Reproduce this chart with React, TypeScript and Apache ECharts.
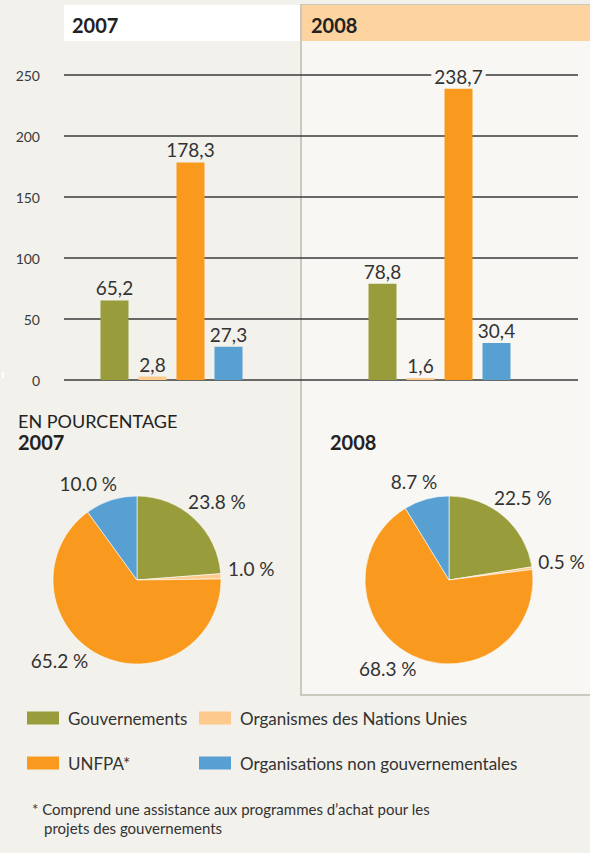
import React, { useEffect, useRef } from 'react';
import * as echarts from 'echarts';

// ---- data ----
const years = ['2007', '2008'];
const seriesNames = [
  'Gouvernements',
  'Organismes des Nations Unies',
  'UNFPA*',
  'Organisations non gouvernementales',
];
const gouvernements = [65.2, 78.8];
const organismesNU = [2.8, 1.6];
const unfpa = [178.3, 238.7];
const ong = [27.3, 30.4];
const yTicks = [0, 50, 100, 150, 200, 250];
const pct2007 = [23.8, 1.0, 65.2, 10.0];
const pct2008 = [22.5, 0.5, 68.3, 8.7];

// ---- styles ----
const colors = ['#999c3a', '#fec98c', '#f99a1e', '#589fd2'];
const bgMain = '#f2f1eb';
const bgPanel = '#f8f7f3';
const labelBg = [bgMain, bgPanel];
const off2007 = [[-6, -17], [7, -8], [-11, 5], [6, -17]];
const off2008 = [[-9.5, -19], [6, -7], [4, 13], [11, -18]];
const FONT = 'Lato';

export default function App() {
  const ref = useRef<HTMLDivElement>(null);
  useEffect(() => {
    document.body.style.margin = '0';
    if (!ref.current) return;
    const chart = echarts.init(ref.current, undefined, { renderer: 'svg' });
    const values = [gouvernements, organismesNU, unfpa, ong];

    const bars = seriesNames.map((name, i) => ({
      type: 'bar',
      name,
      xAxisIndex: 1,
      yAxisIndex: 1,
      barWidth: 28,
      barGap: '35.7%',
      itemStyle: { color: colors[i] },
      emphasis: { disabled: true },
      label: {
        show: true,
        position: 'top',
        distance: 3,
        fontSize: 19,
        fontFamily: FONT,
        color: '#333',
        padding: [0, 3],
        formatter: (p: any) => String(p.value).replace('.', ','),
      },
      data: values[i].map((v, j) => ({ value: v, label: { backgroundColor: labelBg[j] } })),
    }));

    const makePie = (pct: number[], cx: number, off: number[][]) => ({
      type: 'pie',
      center: [cx, 580],
      radius: 84,
      startAngle: 90,
      clockwise: true,
      avoidLabelOverlap: false,
      emphasis: { disabled: true },
      itemStyle: { borderColor: '#ffffff', borderWidth: 0.6 },
      label: {
        position: 'outside',
        fontSize: 19,
        fontFamily: FONT,
        color: '#333',
        distanceToLabelLine: 0,
        formatter: (p: any) => Number(p.value).toFixed(1) + ' %',
      },
      labelLine: { show: false, length: 0, length2: 0 },
      labelLayout: (p: any) => ({ dx: off[p.dataIndex][0], dy: off[p.dataIndex][1] }),
      data: pct.map((v, i) => ({ name: seriesNames[i], value: v, itemStyle: { color: colors[i] } })),
    });

    const legendBase = {
      orient: 'vertical',
      top: 709,
      itemWidth: 32,
      itemHeight: 13,
      itemGap: 27,
      icon: 'rect',
      padding: 0,
      selectedMode: false,
      textStyle: { fontSize: 17, fontFamily: FONT, color: '#333', lineHeight: 18, padding: [0, 0, 0, 4] },
    };

    const option: any = {
      animation: false,
      backgroundColor: bgMain,
      textStyle: { fontFamily: FONT },
      color: colors,
      graphic: [
        { type: 'rect', z: -1, shape: { x: 301, y: 5, width: 300, height: 690 }, style: { fill: bgPanel, stroke: '#c9c9bd', lineWidth: 2 } },
        { type: 'rect', z: 5, shape: { x: 64, y: 5, width: 236, height: 36 }, style: { fill: '#ffffff' } },
        { type: 'rect', z: 5, shape: { x: 302, y: 5, width: 290, height: 36 }, style: { fill: '#fdd3a0' } },
        { type: 'rect', z: 5, shape: { x: 2, y: 372, width: 2, height: 6 }, style: { fill: '#ffffff' } },
        { type: 'text', z: 6, x: 72, y: 25, style: { text: years[0], fontSize: 20, fontWeight: 'bold', fontFamily: FONT, fill: '#222', verticalAlign: 'middle' } },
        { type: 'text', z: 6, x: 311, y: 25, style: { text: years[1], fontSize: 20, fontWeight: 'bold', fontFamily: FONT, fill: '#222', verticalAlign: 'middle' } },
        { type: 'text', z: 6, x: 18, y: 421, style: { text: 'EN POURCENTAGE', fontSize: 18, fontFamily: FONT, fill: '#222', verticalAlign: 'middle' } },
        { type: 'text', z: 6, x: 18, y: 442, style: { text: years[0], fontSize: 20, fontWeight: 'bold', fontFamily: FONT, fill: '#222', verticalAlign: 'middle' } },
        { type: 'text', z: 6, x: 330, y: 442, style: { text: years[1], fontSize: 20, fontWeight: 'bold', fontFamily: FONT, fill: '#222', verticalAlign: 'middle' } },
        { type: 'text', z: 6, x: 32, y: 809, style: { text: '* Comprend une assistance aux programmes d’achat pour les', fontSize: 15, fontFamily: FONT, fill: '#333', verticalAlign: 'middle' } },
        { type: 'text', z: 6, x: 44, y: 828, style: { text: 'projets des gouvernements', fontSize: 15, fontFamily: FONT, fill: '#333', verticalAlign: 'middle' } },
      ],
      grid: [
        { left: 64, width: 514, top: 75, height: 305 },
        { left: 37.5, width: 536, top: 75, height: 305 },
      ],
      xAxis: [
        { gridIndex: 0, type: 'value', show: false, min: 0, max: 1 },
        { gridIndex: 1, type: 'category', data: years, show: false },
      ],
      yAxis: [
        {
          gridIndex: 0,
          type: 'value',
          min: yTicks[0],
          max: yTicks[yTicks.length - 1],
          interval: yTicks[1] - yTicks[0],
          axisLine: { show: false },
          axisTick: { show: false },
          splitLine: { lineStyle: { color: '#3a3a3a', width: 1.5 } },
          axisLabel: { color: '#3a3a3a', fontSize: 14, fontFamily: FONT, margin: 24, padding: [0, 0, 12, 0] },
        },
        { gridIndex: 1, type: 'value', min: yTicks[0], max: yTicks[yTicks.length - 1], show: false },
      ],
      legend: [
        { ...legendBase, left: 27, data: [seriesNames[0], seriesNames[2]] },
        { ...legendBase, left: 199, data: [seriesNames[1], seriesNames[3]] },
      ],
      series: [...bars, makePie(pct2007, 137, off2007), makePie(pct2008, 449, off2008)],
    };
    chart.setOption(option);
    return () => chart.dispose();
  }, []);
  return <div ref={ref} style={{ width: 590, height: 853 }} />;
}
